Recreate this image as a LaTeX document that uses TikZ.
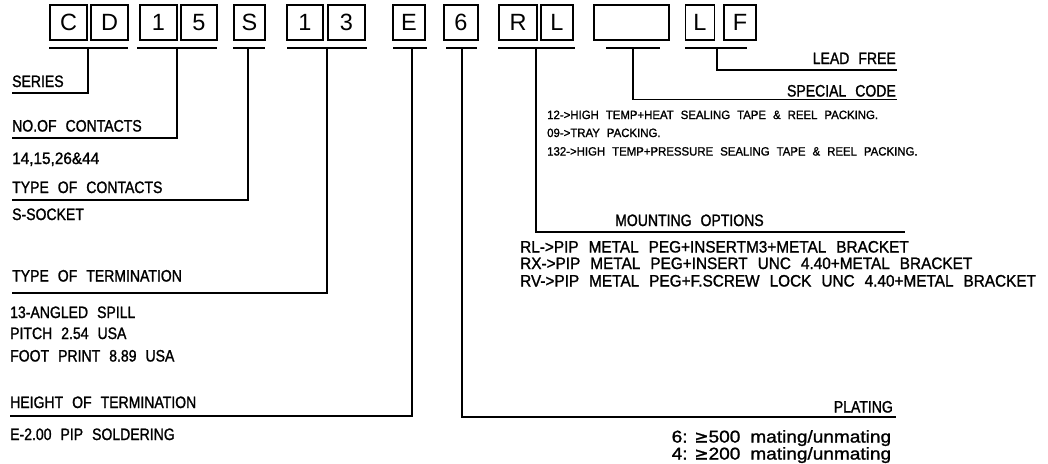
\documentclass[tikz,border=0pt]{standalone}
\usepackage{fontspec}
\setmainfont{Liberation Sans}
\newfontfamily\symfont[FakeBold=1.2]{DejaVu Sans}
\newfontfamily\lblff[FakeStretch=0.85,FakeBold=1.3]{Liberation Sans}
\newfontfamily\mntff[FakeStretch=0.93,FakeBold=1.3]{Liberation Sans}
\newfontfamily\smlff[FakeStretch=0.95,FakeBold=1.3]{Liberation Sans}
\newfontfamily\matff[FakeStretch=1.12,FakeBold=1.3]{Liberation Sans}
\newcommand\lblfont{\lblff\fontsize{16.5}{16.5}\selectfont\spaceskip=9pt\relax}
\newcommand\mntfont{\mntff\fontsize{16.5}{16.5}\selectfont\spaceskip=10pt\relax}
\newcommand\smlfont{\smlff\fontsize{12}{12}\selectfont\spaceskip=7pt\relax}
\newcommand\matfont{\matff\fontsize{17}{17}\selectfont\spaceskip=5pt\relax}
\begin{document}
\begin{tikzpicture}[x=1pt,y=-1pt,
  cell/.style={draw,line width=1.2pt,inner sep=0pt,minimum height=35pt,font=\fontsize{23.5}{23.5}\selectfont},
  lead/.style={line width=1.7pt},
  lbl/.style={inner sep=0pt,font=\lblfont},
  mnt/.style={inner sep=0pt,font=\mntfont},
  sml/.style={inner sep=0pt,font=\smlfont},
  mat/.style={inner sep=0pt,font=\matfont},
]
\useasboundingbox (0,0) rectangle (1048,463);
% code boxes
\node[cell,minimum width=37pt] (bC) at (68.5,22.5) {C};
\node[cell,minimum width=37pt] (bD) at (109.5,22.5) {D};
\node[cell,minimum width=37pt] (b1) at (158.5,22.5) {1};
\node[cell,minimum width=36pt] (b5) at (199,22.5) {5};
\node[cell,minimum width=31pt] (bS) at (249.5,22.5) {S};
\node[cell,minimum width=36pt] (b1b) at (305,22.5) {1};
\node[cell,minimum width=37pt] (b3) at (346.5,22.5) {3};
\node[cell,minimum width=32pt] (bE) at (409,22.5) {E};
\node[cell,minimum width=34pt] (b6) at (461,22.5) {6};
\node[cell,minimum width=38pt] (bR) at (518,22.5) {R};
\node[cell,minimum width=32pt] (bL) at (557,22.5) {L};
\node[cell,minimum width=75pt] (bX) at (631.5,22.5) {};
\node[cell,minimum width=29pt] (bL2) at (700,22.5) {L};
\node[cell,minimum width=32pt] (bF) at (740,22.5) {F};
% underlines
\draw[lead] (49,48) -- (128,48);
\draw[lead] (137,48) -- (217,48);
\draw[lead] (233,48) -- (265,48);
\draw[lead] (287,48) -- (367,48);
\draw[lead] (393,48) -- (427,48);
\draw[lead] (446,48) -- (477,48);
\draw[lead] (498,48) -- (575,48);
\draw[lead] (606,48) -- (660,48);
\draw[lead] (685,48) -- (747,48);
\coordinate (uCD) at (88,48);
\coordinate (u15) at (177,48);
\coordinate (uS) at (248,48);
\coordinate (u13) at (327,48);
\coordinate (uE) at (412,48);
\coordinate (u6) at (462,48);
\coordinate (uRL) at (536,48);
\coordinate (uX) at (633,48);
\coordinate (uLF) at (717,48);
% leader ends
\coordinate (eSer) at (12,93);
\coordinate (eNo) at (12,138);
\coordinate (eType) at (12,200);
\coordinate (eTerm) at (12,293);
\coordinate (eHgt) at (10,416);
\coordinate (ePlat) at (896,417);
\coordinate (eMnt) at (905,232);
\coordinate (eSpc) at (897,99.5);
\coordinate (eLead) at (897,70);
\draw[lead] (uCD) |- (eSer);
\draw[lead] (u15) |- (eNo);
\draw[lead] (uS) |- (eType);
\draw[lead] (u13) |- (eTerm);
\draw[lead] (uE) |- (eHgt);
\draw[lead] (u6) |- (ePlat);
\draw[lead] (uRL) |- (eMnt);
\draw[lead] (uX) |- (eSpc);
\draw[lead] (uLF) |- (eLead);
% left texts
\node[lbl,anchor=base west] (tSer) at (12,87) {SERIES};
\node[lbl,anchor=base west] (tNo) at (12,131.5) {NO.OF CONTACTS};
\node[mnt,anchor=base west] (tNoV) at (12,164) {14,15,26\&44};
\node[lbl,anchor=base west] (tType) at (12,193) {TYPE OF CONTACTS};
\node[lbl,anchor=base west] (tTypeV) at (12,220) {S-SOCKET};
\node[lbl,anchor=base west] (tTerm) at (12,281.5) {TYPE OF TERMINATION};
\node[lbl,anchor=base west] (tTerm1) at (10,318) {13-ANGLED SPILL};
\node[lbl,anchor=base west] (tTerm2) at (10,339) {PITCH 2.54 USA};
\node[lbl,anchor=base west] (tTerm3) at (10,361.5) {FOOT PRINT 8.89 USA};
\node[lbl,anchor=base west] (tHgt) at (10,408) {HEIGHT OF TERMINATION};
\node[lbl,anchor=base west] (tHgtV) at (10,440) {E-2.00 PIP SOLDERING};
% right texts
\node[lbl,anchor=base east] (tLead) at (896,64) {LEAD FREE};
\node[lbl,anchor=base east] (tSpc) at (896,96.5) {SPECIAL CODE};
\node[sml,anchor=base west] (tSpc1) at (547,119) {12->HIGH TEMP+HEAT SEALING TAPE \& REEL PACKING.};
\node[sml,anchor=base west] (tSpc2) at (547,137) {09->TRAY PACKING.};
\node[sml,anchor=base west] (tSpc3) at (547,155.5) {132->HIGH TEMP+PRESSURE SEALING TAPE \& REEL PACKING.};
\node[lbl,anchor=base west] (tMnt) at (615,226) {MOUNTING OPTIONS};
\node[mnt,anchor=base west] (tMnt1) at (520,252.5) {RL->PIP METAL PEG+INSERTM3+METAL BRACKET};
\node[mnt,anchor=base west] (tMnt2) at (520,269) {RX->PIP METAL PEG+INSERT UNC 4.40+METAL BRACKET};
\node[mnt,anchor=base west] (tMnt3) at (520,286.5) {RV->PIP METAL PEG+F.SCREW LOCK UNC 4.40+METAL BRACKET};
\node[lbl,anchor=base east] (tPlat) at (893,412.5) {PLATING};
\node[mat,anchor=base west] (tPlat1) at (671.5,442.5) {6: {\symfont ≥}500\hspace{10pt}mating/unmating};
\node[mat,anchor=base west] (tPlat2) at (671.5,459.5) {4: {\symfont ≥}200\hspace{10pt}mating/unmating};
\end{tikzpicture}
\end{document}
